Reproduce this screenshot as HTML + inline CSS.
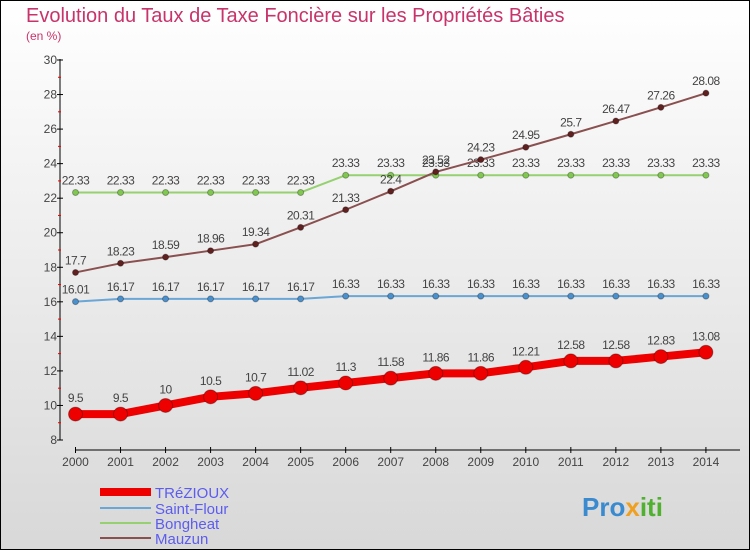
<!DOCTYPE html>
<html><head><meta charset="utf-8"><style>
body{margin:0}
#wrap{width:750px;height:550px;position:relative;box-sizing:border-box;border:1px solid #000;background:linear-gradient(#fff,#d8d8d8);font-family:"Liberation Sans",sans-serif;overflow:hidden}
</style></head><body>
<div id="wrap">
<svg id="svg" width="750" height="550" style="position:absolute;left:-1px;top:-1px">
<text x="26" y="22" font-size="20" fill="#c8336a">Evolution du Taux de Taxe Foncière sur les Propriétés Bâties</text>
<text x="26" y="40" font-size="12" fill="#c8336a">(en %)</text>
<g id="axes"></g><g id="series"></g>
<g>
<line x1="100" y1="492" x2="151" y2="492" stroke="#e00" stroke-width="8"/>
<text x="155" y="498" font-size="15" fill="#5c5cf0">TRéZIOUX</text>
<line x1="100" y1="508" x2="151" y2="508" stroke="#6aa6d6" stroke-width="2"/>
<text x="155" y="514" font-size="15" fill="#5c5cf0">Saint-Flour</text>
<line x1="100" y1="523" x2="151" y2="523" stroke="#96d070" stroke-width="2"/>
<text x="155" y="529" font-size="15" fill="#5c5cf0">Bongheat</text>
<line x1="100" y1="538" x2="151" y2="538" stroke="#8a5050" stroke-width="2"/>
<text x="155" y="544" font-size="15" fill="#5c5cf0">Mauzun</text>
</g>
<text x="582" y="516" font-size="26" font-weight="bold" fill="#3a8ad0">Pro<tspan fill="#f0a020">x</tspan><tspan fill="#50b030">iti</tspan></text>
</svg>
</div>
<script>
const years=[2000,2001,2002,2003,2004,2005,2006,2007,2008,2009,2010,2011,2012,2013,2014];
const trezioux=[9.5,9.5,10,10.5,10.7,11.02,11.3,11.58,11.86,11.86,12.21,12.58,12.58,12.83,13.08];
const saintFlour=[16.01,16.17,16.17,16.17,16.17,16.17,16.33,16.33,16.33,16.33,16.33,16.33,16.33,16.33,16.33];
const bongheat=[22.33,22.33,22.33,22.33,22.33,22.33,23.33,23.33,23.33,23.33,23.33,23.33,23.33,23.33,23.33];
const mauzun=[17.7,18.23,18.59,18.96,19.34,20.31,21.33,22.4,23.52,24.23,24.95,25.7,26.47,27.26,28.08];
const yTicks=[8,10,12,14,16,18,20,22,24,26,28,30];
const NS="http://www.w3.org/2000/svg";
const X=i=>75.5+i*45.03, Y=v=>440-(v-8)*(380/22);
function mk(t,a,p){const e=document.createElementNS(NS,t);for(const k in a)e.setAttribute(k,a[k]);p.appendChild(e);return e;}
const ax=document.getElementById('axes'), sg=document.getElementById('series');
let l=mk('line',{x1:60,y1:Y(30)-1,x2:60,y2:Y(8),stroke:'#000'},ax);

l=mk('line',{x1:X(0),y1:450,x2:740,y2:450,stroke:'#000'},ax);

yTicks.forEach(v=>{
 mk('line',{x1:57,y1:Y(v),x2:63,y2:Y(v),stroke:'#000'},ax);
 if(v<30)mk('line',{x1:58,y1:Y(v+1),x2:61,y2:Y(v+1),stroke:'#e00'},ax);
 const t=mk('text',{x:57,y:Y(v)+4,'font-size':12,fill:'#444','text-anchor':'end'},ax);t.textContent=v;
 
});
years.forEach((y,i)=>{
 mk('line',{x1:X(i),y1:447,x2:X(i),y2:453,stroke:'#000'},ax);
 const t=mk('text',{x:X(i),y:466,'font-size':12,fill:'#444','text-anchor':'middle'},ax);t.textContent=y;
 
});
function series(d,name,col,w,r,dot){
 const g=mk('g',{},sg);
 
 mk('polyline',{points:d.map((v,i)=>X(i)+','+Y(v)).join(' '),fill:'none',stroke:col,'stroke-width':w,'stroke-linejoin':'round'},g);
 d.forEach((v,i)=>{
  const c=mk('circle',{cx:X(i),cy:Y(v),r:r,fill:dot,stroke:'rgba(0,0,0,0.3)'},g);
  
  const t=mk('text',{x:X(i),y:Y(v)-(r+5),'font-size':12,fill:'#444','text-anchor':'middle','letter-spacing':'-0.5'},g);t.textContent=v;
  
 });
}
series(bongheat,'bongheat','#96d070',2,3,'#80c850');
series(saintFlour,'saint-flour','#6aa6d6',2,3,'#4a90cc');
series(mauzun,'mauzun','#8a5050',2,3,'#602020');
series(trezioux,'trezioux','#e00',8,7,'#e00');
</script>
</body></html>
